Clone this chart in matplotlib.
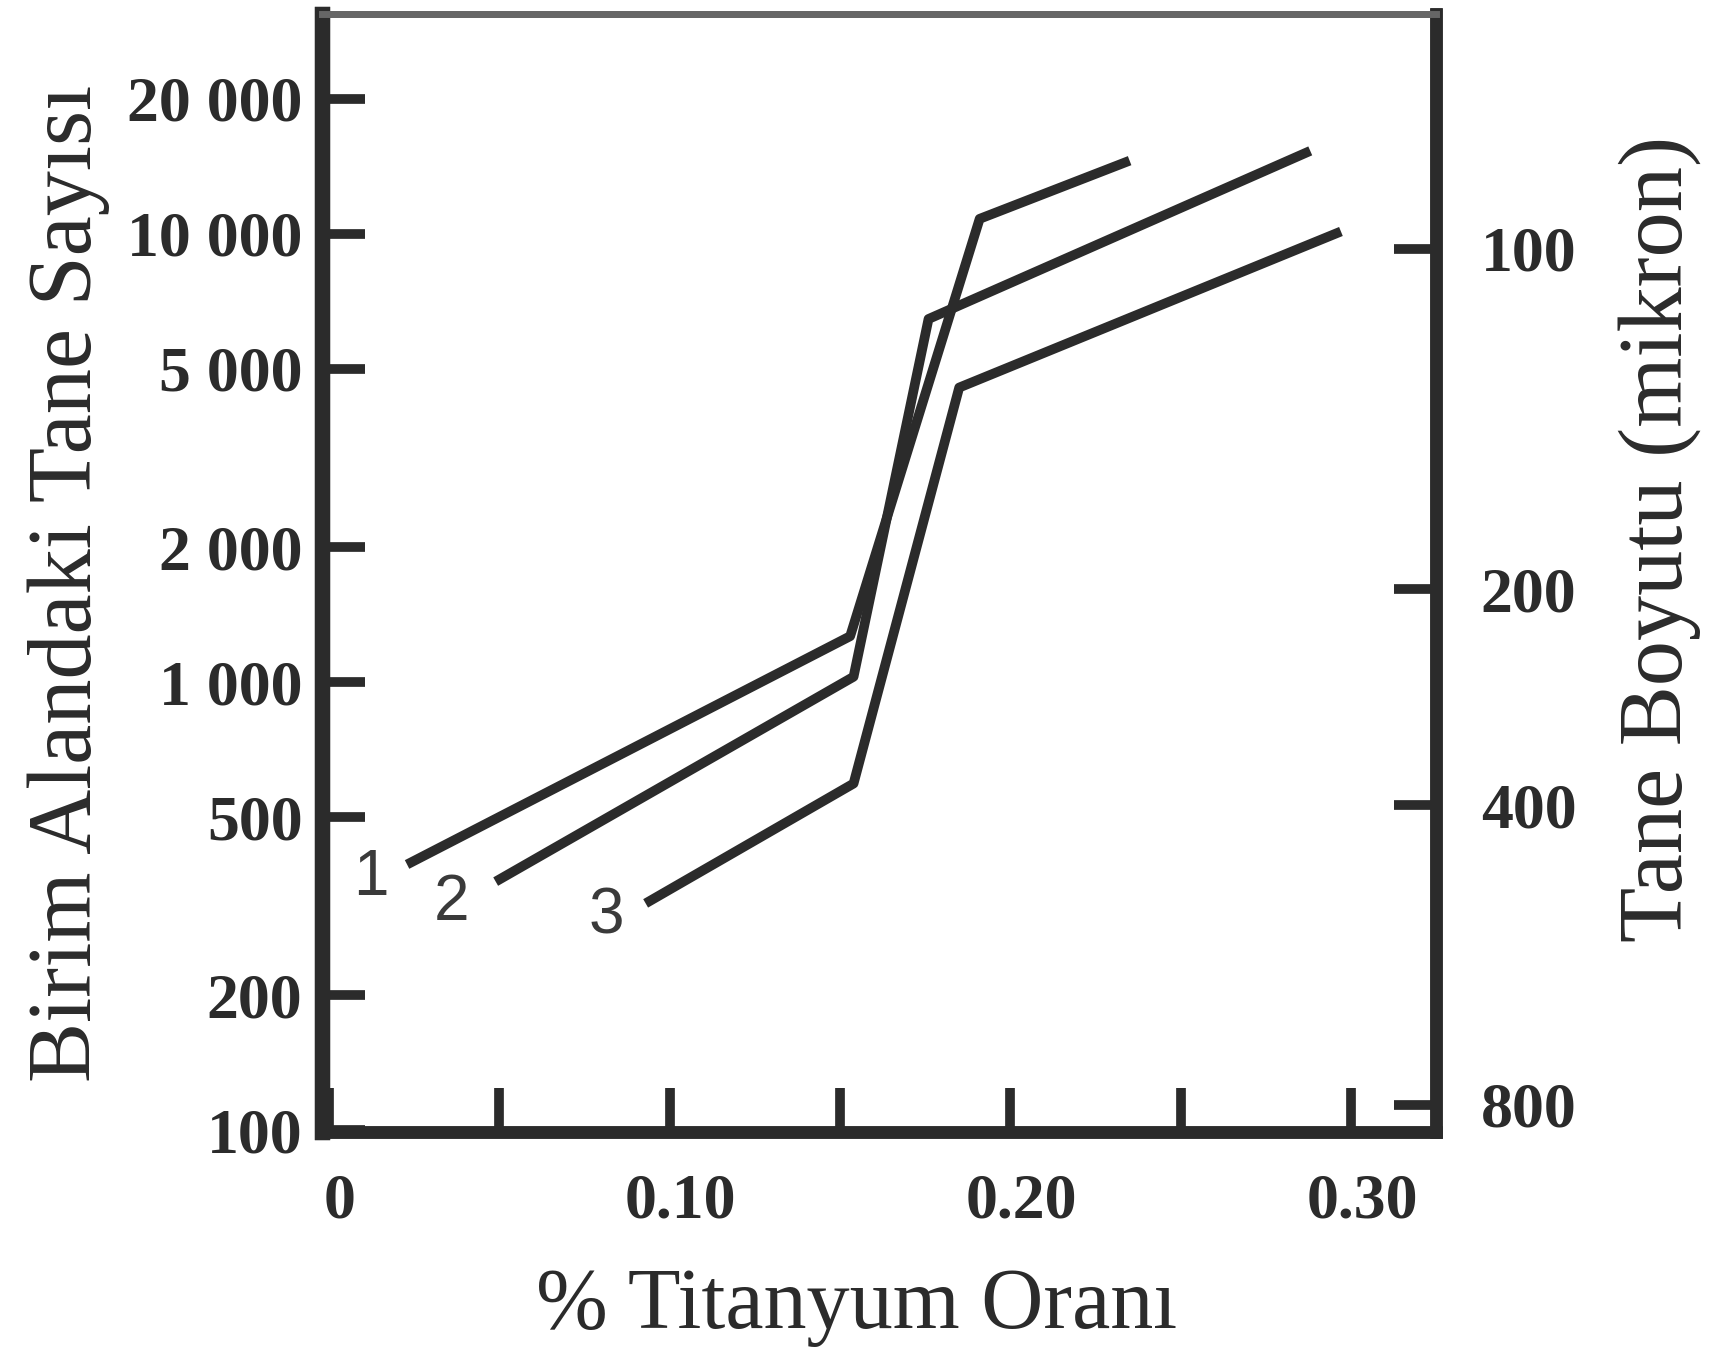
import matplotlib
matplotlib.use("Agg")
import matplotlib.pyplot as plt
import matplotlib.transforms as mtransforms
from matplotlib.ticker import FixedLocator, FixedFormatter, NullLocator

# % titanium vs grain count per unit area
ti_1 = [0.023, 0.153, 0.191, 0.235]
count_1 = [392, 1266, 10800, 14560]
ti_2 = [0.049, 0.154, 0.176, 0.288]
count_2 = [359, 1028, 6457, 15310]
ti_3 = [0.093, 0.154, 0.185, 0.297]
count_3 = [321, 594, 4540, 10120]

curve_names = ["1", "2", "3"]
name_x = [0.0125, 0.036, 0.0815]
name_y = [365, 321, 300]

x_ticks = [0, 0.05, 0.10, 0.15, 0.20, 0.25, 0.30]
x_labels = ["0", "", "0.10", "", "0.20", "", "0.30"]
y_ticks = [100, 200, 500, 1000, 2000, 5000, 10000, 20000]
y_labels = ["100", "200", "500", "1 000", "2 000", "5 000", "10 000", "20 000"]
# grain size (micron) marks, placed at their count-axis equivalents
size_pos = [9250, 1611, 531, 114]
size_labels = ["100", "200", "400", "800"]

ink = "#2b2b2b"
serif = "Liberation Serif"

fig = plt.figure(figsize=(17.12, 13.52), dpi=100)
ax = fig.add_axes([0.188, 0.163, 0.651, 0.827])

for xs, ys in [(ti_1, count_1), (ti_2, count_2), (ti_3, count_3)]:
    ax.plot(xs, ys, color=ink, lw=7, solid_capstyle="butt")

for name, tx, ty in zip(curve_names, name_x, name_y):
    ax.text(tx, ty, name, fontsize=46, color="#3a3a3a", family="Liberation Sans",
            ha="center", va="center")

ax.set_yscale("log")
ax.set_xlim(-0.002, 0.325)
ax.set_ylim(99.4, 31000)

ax.xaxis.set_major_locator(FixedLocator(x_ticks))
ax.xaxis.set_major_formatter(FixedFormatter(x_labels))
ax.yaxis.set_major_locator(FixedLocator(y_ticks))
ax.yaxis.set_major_formatter(FixedFormatter(y_labels))
ax.yaxis.set_minor_locator(NullLocator())

ax.tick_params(axis="x", direction="in", length=32, width=7, color=ink, pad=30,
               labelsize=46, labelcolor=ink)
ax.tick_params(axis="y", direction="in", length=31, width=7, color=ink, pad=14,
               labelsize=46, labelcolor=ink)
for lab in ax.get_xticklabels() + ax.get_yticklabels():
    lab.set_family(serif)
    lab.set_weight("bold")
# the printed x labels sit a little right of their ticks
shift = mtransforms.ScaledTranslation(0.11, 0, fig.dpi_scale_trans)
for lab in ax.get_xticklabels():
    lab.set_transform(lab.get_transform() + shift)

ax2 = ax.twinx()
ax2.set_yscale("log")
ax2.set_ylim(ax.get_ylim())
ax2.yaxis.set_major_locator(FixedLocator(size_pos))
ax2.yaxis.set_major_formatter(FixedFormatter(size_labels))
ax2.yaxis.set_minor_locator(NullLocator())
ax2.tick_params(axis="y", direction="in", length=30, width=7, color=ink, pad=32,
                labelsize=46, labelcolor=ink)
for lab in ax2.get_yticklabels():
    lab.set_family(serif)
    lab.set_weight("bold")

for a in (ax, ax2):
    a.spines["left"].set_linewidth(11)
    a.spines["bottom"].set_linewidth(9)
    a.spines["right"].set_linewidth(9)
    a.spines["top"].set_linewidth(5)
    for s in ("left", "bottom", "right"):
        a.spines[s].set_color(ink)
    a.spines["top"].set_color("#666666")

ax.set_xlabel("% Titanyum Oranı", fontsize=62, family=serif, color=ink, labelpad=26)
ax.xaxis.label.set_x(0.48)
ax.set_ylabel("Birim Alandaki Tane Sayısı", fontsize=65, family=serif, color=ink,
              labelpad=12)
ax.yaxis.label.set_y(0.49)
ax2.set_ylabel("Tane Boyutu (mikron)", fontsize=65, family=serif, color=ink,
               labelpad=30)
ax2.yaxis.label.set_y(0.53)

fig.savefig("out.png", dpi=100)
